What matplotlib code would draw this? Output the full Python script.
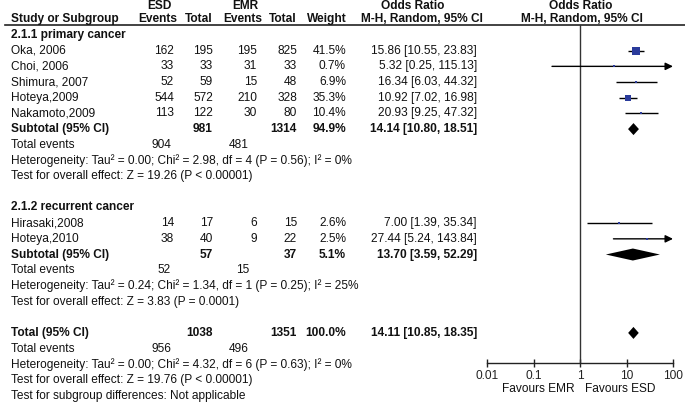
import matplotlib
matplotlib.use('Agg')
import matplotlib.pyplot as plt

plt.rcParams['font.family'] = ['Liberation Sans', 'DejaVu Sans']

# ---- data ----
g1_names = ['Oka, 2006', 'Choi, 2006', 'Shimura, 2007', 'Hoteya,2009', 'Nakamoto,2009']
g1_esd_events = [162, 33, 52, 544, 113]
g1_esd_total = [195, 33, 59, 572, 122]
g1_emr_events = [195, 31, 15, 210, 30]
g1_emr_total = [825, 33, 48, 328, 80]
g1_weight = [41.5, 0.7, 6.9, 35.3, 10.4]
g1_or = [15.86, 5.32, 16.34, 10.92, 20.93]
g1_lo = [10.55, 0.25, 6.03, 7.02, 9.25]
g1_hi = [23.83, 115.13, 44.32, 16.98, 47.32]

g2_names = ['Hirasaki,2008', 'Hoteya,2010']
g2_esd_events = [14, 38]
g2_esd_total = [17, 40]
g2_emr_events = [6, 9]
g2_emr_total = [15, 22]
g2_weight = [2.6, 2.5]
g2_or = [7.00, 27.44]
g2_lo = [1.39, 5.24]
g2_hi = [35.34, 143.84]

# subtotal / total rows
sub_labels = ['Subtotal (95% CI)', 'Subtotal (95% CI)', 'Total (95% CI)']
sub_esd_total = [981, 57, 1038]
sub_emr_total = [1314, 37, 1351]
sub_weight = [94.9, 5.1, 100.0]
sub_or = [14.14, 13.70, 14.11]
sub_lo = [10.80, 3.59, 10.85]
sub_hi = [18.51, 52.29, 18.35]
sub_esd_events = [904, 52, 956]
sub_emr_events = [481, 15, 496]
sub_het = ['Heterogeneity: Tau\u00b2 = 0.00; Chi\u00b2 = 2.98, df = 4 (P = 0.56); I\u00b2 = 0%',
           'Heterogeneity: Tau\u00b2 = 0.24; Chi\u00b2 = 1.34, df = 1 (P = 0.25); I\u00b2 = 25%',
           'Heterogeneity: Tau\u00b2 = 0.00; Chi\u00b2 = 4.32, df = 6 (P = 0.63); I\u00b2 = 0%']
sub_test = ['Test for overall effect: Z = 19.26 (P < 0.00001)',
            'Test for overall effect: Z = 3.83 (P = 0.0001)',
            'Test for overall effect: Z = 19.76 (P < 0.00001)']

axis_ticks = [0.01, 0.1, 1, 10, 100]
axis_labels = ['0.01', '0.1', '1', '10', '100']

# ---- layout (pixels) ----
W, H = 685, 404
ROW0, ROW_H = 35, 15.68
FS = 8.6
TXT = '#111111'
BLUE = '#2a3b9b'

X_NAME = 11
X_E1, X_N1, X_E2, X_N2, X_W, X_OR = 174, 213, 257, 297, 346, 477
X_TE1, X_TE2 = 171, 249


def row_of(py):
    return (py - ROW0) / ROW_H


fig = plt.figure(figsize=(W / 100, H / 100), dpi=100)
ax = fig.add_axes([0, 0, 1, 1])
ax.set_xlim(0, W)
ax.set_ylim(row_of(H), row_of(0))
ax.axis('off')

fx = fig.add_axes([487 / W, 1 - 363 / H, 186 / W, 338 / H])
fx.set_xscale('log')
fx.set_xlim(0.01, 100)
fx.set_ylim(row_of(363), row_of(25))
fx.patch.set_visible(False)
for s in ['top', 'left', 'right']:
    fx.spines[s].set_visible(False)
fx.spines['bottom'].set_linewidth(1)
fx.spines['bottom'].set_color('#222222')
fx.set_xticks(axis_ticks)
fx.set_xticklabels(axis_labels)
fx.minorticks_off()
fx.set_yticks([])
fx.tick_params(axis='x', direction='inout', length=6, width=1, pad=2,
               labelsize=FS, colors='#222222')
fx.axvline(1, color='#333333', lw=1)


def t(x, r, s, ha='left', bold=False):
    ax.text(x, r, s, ha=ha, va='center', fontsize=FS, color=TXT,
            fontweight='bold' if bold else 'normal')


# header
t(159, row_of(6), 'ESD', ha='center', bold=True)
t(245, row_of(6), 'EMR', ha='center', bold=True)
t(413, row_of(6), 'Odds Ratio', ha='center', bold=True)
t(581, row_of(6), 'Odds Ratio', ha='center', bold=True)
hr = row_of(19)
t(X_NAME, hr, 'Study or Subgroup', bold=True)
t(177, hr, 'Events', ha='right', bold=True)
t(213, hr, 'Total', ha='right', bold=True)
t(262, hr, 'Events', ha='right', bold=True)
t(297, hr, 'Total', ha='right', bold=True)
t(347, hr, 'Weight', ha='right', bold=True)
t(422, hr, 'M-H, Random, 95% CI', ha='center', bold=True)
t(582, hr, 'M-H, Random, 95% CI', ha='center', bold=True)
ax.plot([5, W], [row_of(25), row_of(25)], color='#222222', lw=1.2)


def study_rows(start, names, e1, n1, e2, n2, wt, est, lo, hi):
    for i in range(len(names)):
        r = start + i
        t(X_NAME, r, names[i])
        t(X_E1, r, str(e1[i]), ha='right')
        t(X_N1, r, str(n1[i]), ha='right')
        t(X_E2, r, str(e2[i]), ha='right')
        t(X_N2, r, str(n2[i]), ha='right')
        t(X_W, r, '%.1f%%' % wt[i], ha='right')
        t(X_OR, r, '%.2f [%.2f, %.2f]' % (est[i], lo[i], hi[i]), ha='right')
        if hi[i] > 100:
            fx.annotate('', xy=(100, r), xytext=(lo[i], r),
                        arrowprops=dict(arrowstyle='-|>,head_length=0.45,head_width=0.22',
                                        color='black', lw=1, shrinkA=0, shrinkB=0),
                        annotation_clip=False)
        else:
            fx.plot([lo[i], hi[i]], [r, r], color='black', lw=1, solid_capstyle='butt')
        side = max(2.2, 8.2 * wt[i] / 41.5)
        fx.plot(est[i], r, marker='s', ms=side * 0.72, color=BLUE, mec=BLUE,
                mew=0, zorder=3)


def summary_rows(r, k):
    t(X_NAME, r, sub_labels[k], bold=True)
    t(X_N1, r, str(sub_esd_total[k]), ha='right', bold=True)
    t(X_N2, r, str(sub_emr_total[k]), ha='right', bold=True)
    t(X_W, r, '%.1f%%' % sub_weight[k], ha='right', bold=True)
    t(X_OR, r, '%.2f [%.2f, %.2f]' % (sub_or[k], sub_lo[k], sub_hi[k]), ha='right', bold=True)
    d = 6.0 / ROW_H
    fx.fill([sub_lo[k], sub_or[k], sub_hi[k], sub_or[k]], [r, r - d, r, r + d],
            color='black', lw=0, zorder=3)
    t(X_NAME, r + 1, 'Total events')
    t(X_TE1, r + 1, str(sub_esd_events[k]), ha='right')
    t(X_TE2, r + 1, str(sub_emr_events[k]), ha='right')
    t(X_NAME, r + 2, sub_het[k])
    t(X_NAME, r + 3, sub_test[k])


t(X_NAME, 0, '2.1.1 primary cancer', bold=True)
study_rows(1, g1_names, g1_esd_events, g1_esd_total, g1_emr_events, g1_emr_total,
           g1_weight, g1_or, g1_lo, g1_hi)
summary_rows(6, 0)

t(X_NAME, 11, '2.1.2 recurrent cancer', bold=True)
study_rows(12, g2_names, g2_esd_events, g2_esd_total, g2_emr_events, g2_emr_total,
           g2_weight, g2_or, g2_lo, g2_hi)
summary_rows(14, 1)

summary_rows(19, 2)
t(X_NAME, 23, 'Test for subgroup differences: Not applicable')

t(575, row_of(389), 'Favours EMR', ha='right')
t(585, row_of(389), 'Favours ESD', ha='left')

fig.savefig('out.png', dpi=100)
